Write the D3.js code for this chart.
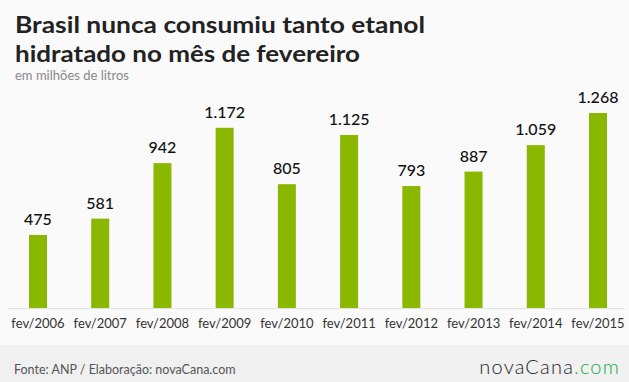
<!DOCTYPE html>
<html><head><meta charset="utf-8">
<script src="https://cdn.jsdelivr.net/npm/d3@7"></script>
<style>
html,body{margin:0;padding:0;background:#fafafa;}
svg{display:block;}
</style></head>
<body><svg id="c" width="629" height="382"></svg>
<script>
const categories = ["fev/2006","fev/2007","fev/2008","fev/2009","fev/2010","fev/2011","fev/2012","fev/2013","fev/2014","fev/2015"];
const values = [475, 581, 942, 1172, 805, 1125, 793, 887, 1059, 1268];
const titleLines = ["Brasil nunca consumiu tanto etanol", "hidratado no mês de fevereiro"];
const subtitle = "em milhões de litros";
const source = "Fonte: ANP / Elaboração: novaCana.com";

const W = 629, H = 382;
const svg = d3.select("#c");
const fmt = d3.formatLocale({decimal:",", thousands:".", grouping:[3], currency:["R$",""]}).format(",d");

svg.append("rect").attr("width", W).attr("height", H).attr("fill", "#fafafa");

// title
const tw = [410, 345];
titleLines.forEach((t, i) => {
  svg.append("text").attr("x", 15).attr("y", 33 + i * 29)
    .attr("font-family", "Lato, 'Open Sans', sans-serif").attr("font-weight", 700)
    .attr("font-size", 23).attr("fill", "#222")
    .attr("textLength", tw[i]).attr("lengthAdjust", "spacingAndGlyphs")
    .text(t);
});
svg.append("text").attr("x", 15).attr("y", 80)
  .attr("font-family", "Lato, sans-serif").attr("font-size", 13).attr("fill", "#888")
  .text(subtitle);

const x = d3.scaleBand().domain(categories).range([6.89, 629.11])
  .paddingInner(0.7107).paddingOuter(0.3553);
const y = d3.scaleLinear().domain([0, 1268]).range([308, 113]);

svg.append("line").attr("x1", 8).attr("x2", 625).attr("y1", 308.5).attr("y2", 308.5)
  .attr("stroke", "#e2e2e2").attr("stroke-width", 1);

const data = categories.map((c, i) => ({c, v: values[i]}));
svg.selectAll("rect.bar").data(data).join("rect").attr("class", "bar")
  .attr("x", d => x(d.c)).attr("width", x.bandwidth())
  .attr("y", d => y(d.v)).attr("height", d => y(0) - y(d.v))
  .attr("fill", "#8ab800");

svg.selectAll("text.val").data(data).join("text").attr("class", "val")
  .attr("x", d => x(d.c) + x.bandwidth() / 2).attr("y", d => y(d.v) - 10)
  .attr("text-anchor", "middle")
  .attr("font-family", "Lato, sans-serif").attr("font-size", 16).attr("font-weight", 500)
  .attr("fill", "#111").text(d => fmt(d.v));

const xAxis = d3.axisBottom(x).tickSize(0).tickPadding(0);
const gx = svg.append("g").attr("transform", "translate(0,318)").call(xAxis);
gx.select(".domain").remove();
gx.selectAll("text").attr("font-family", "Lato, sans-serif").attr("font-size", 13)
  .attr("fill", "#333").attr("dy", "0.8em");

// footer
svg.append("rect").attr("x", 0).attr("y", 345).attr("width", W).attr("height", H - 345).attr("fill", "#f0f0f0");
svg.append("text").attr("x", 14).attr("y", 374)
  .attr("font-family", "Lato, sans-serif").attr("font-size", 12.5).attr("fill", "#555")
  .text(source);
const logo = svg.append("text").attr("x", 620).attr("y", 374).attr("text-anchor", "end")
  .attr("font-family", "Lato, sans-serif").attr("font-weight", 300).attr("font-size", 20)
  .attr("letter-spacing", 1.2).attr("fill", "#222");
logo.append("tspan").text("novaCana");
logo.append("tspan").attr("fill", "#22a84a").text(".com");
</script></body></html>
